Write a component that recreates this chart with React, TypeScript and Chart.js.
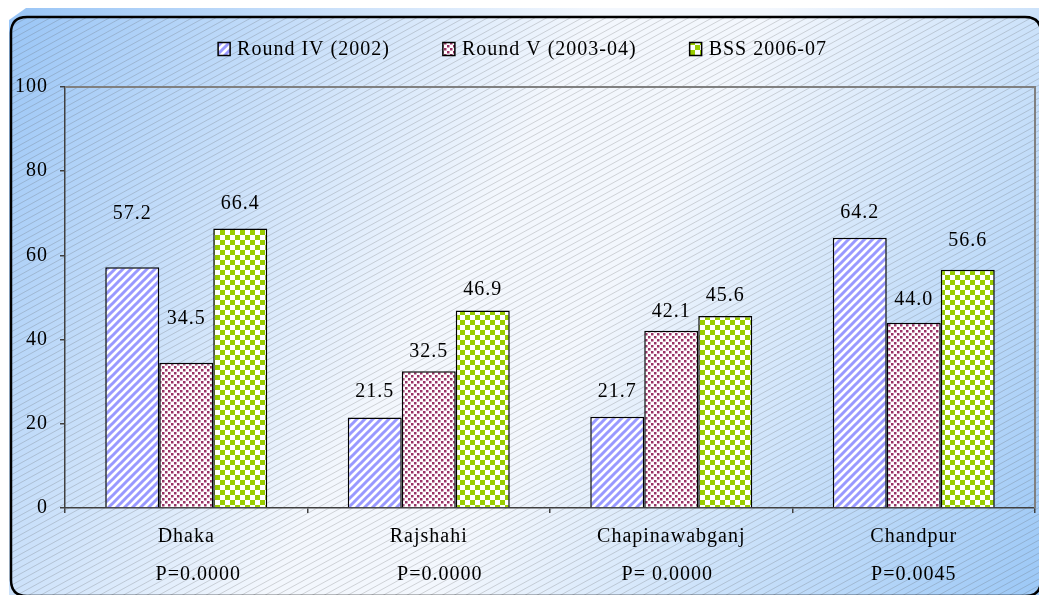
import React, { useEffect, useRef } from "react";
import { Chart, registerables } from "chart.js";

Chart.register(...registerables);

const categories = ["Dhaka", "Rajshahi", "Chapinawabganj", "Chandpur"];
const pValues = ["P=0.0000", "P=0.0000", "P= 0.0000", "P=0.0045"];
const seriesNames = ["Round IV (2002)", "Round V (2003-04)", "BSS 2006-07"];
const round4 = [57.2, 21.5, 21.7, 64.2];
const round5 = [34.5, 32.5, 42.1, 44.0];
const bss = [66.4, 46.9, 45.6, 56.6];
const yTicks = [0, 20, 40, 60, 80, 100];

// style: how far (px) each value label sits above its bar top
const labelLift = [
  [53, 25.5, 24.6, 24.7],
  [44, 19, 19, 23],
  [24.5, 20.5, 20, 28.7],
];
// style: horizontal nudge of the P-value captions
const pNudge = [12, 11, -4, 0];

const FAMILY = "'Liberation Serif', 'Times New Roman', serif";
const FONT = `20px ${FAMILY}`;

function stripePattern(ctx: CanvasRenderingContext2D) {
  const c = document.createElement("canvas");
  c.width = 8;
  c.height = 8;
  const g = c.getContext("2d")!;
  g.fillStyle = "#ffffff";
  g.fillRect(0, 0, 8, 8);
  g.strokeStyle = "#9999ff";
  g.lineWidth = 3;
  g.beginPath();
  g.moveTo(-2, 10);
  g.lineTo(10, -2);
  g.moveTo(-2, 2);
  g.lineTo(2, -2);
  g.moveTo(6, 10);
  g.lineTo(10, 6);
  g.stroke();
  return ctx.createPattern(c, "repeat")!;
}

function dotPattern(ctx: CanvasRenderingContext2D) {
  const c = document.createElement("canvas");
  c.width = 6;
  c.height = 6;
  const g = c.getContext("2d")!;
  g.fillStyle = "#ffffff";
  g.fillRect(0, 0, 6, 6);
  g.fillStyle = "#993366";
  g.fillRect(0, 0, 2.5, 2.5);
  g.fillRect(3, 3, 2.5, 2.5);
  return ctx.createPattern(c, "repeat")!;
}

function checkerPattern(ctx: CanvasRenderingContext2D) {
  const c = document.createElement("canvas");
  c.width = 10;
  c.height = 10;
  const g = c.getContext("2d")!;
  g.fillStyle = "#ffffff";
  g.fillRect(0, 0, 10, 10);
  g.fillStyle = "#99cc00";
  g.fillRect(0, 0, 5, 5);
  g.fillRect(5, 5, 5, 5);
  return ctx.createPattern(c, "repeat")!;
}

function framePath(c: CanvasRenderingContext2D, x: number, y: number, w: number, h: number, r: number) {
  c.beginPath();
  c.moveTo(x + r, y);
  c.lineTo(x + w - r, y);
  c.quadraticCurveTo(x + w, y, x + w, y + r);
  c.lineTo(x + w, y + h - r);
  c.quadraticCurveTo(x + w, y + h, x + w - r, y + h);
  c.lineTo(x + r, y + h);
  c.quadraticCurveTo(x, y + h, x, y + h - r);
  c.lineTo(x, y + r);
  c.quadraticCurveTo(x, y, x + r, y);
  c.closePath();
}

export default function App() {
  const ref = useRef<HTMLCanvasElement>(null);

  useEffect(() => {
    document.body.style.margin = "0";
    const canvas = ref.current!;
    const ctx = canvas.getContext("2d")!;
    const pats = [stripePattern(ctx), dotPattern(ctx), checkerPattern(ctx)];
    const series = [round4, round5, bss];

    const bgPlugin = {
      id: "bgPlugin",
      beforeDraw(chart: any) {
        const c: CanvasRenderingContext2D = chart.ctx;
        const W = chart.width;
        const H = chart.height;
        c.save();
        c.fillStyle = "#ffffff";
        c.fillRect(0, 0, W, H);
        const g = c.createLinearGradient(0, 0, W, H);
        g.addColorStop(0, "#97c4f6");
        g.addColorStop(0.44, "#f3f7fd");
        g.addColorStop(0.56, "#f3f7fd");
        g.addColorStop(1, "#9cc8f6");
        c.fillStyle = g;
        c.beginPath();
        c.moveTo(26, 8);
        c.lineTo(W, 8);
        c.lineTo(W, H);
        c.lineTo(9, H);
        c.lineTo(9, 20);
        c.closePath();
        c.fill();

        const fx = 11, fy = 17, fw = 1030, fh = 579, r = 16;
        framePath(c, fx, fy, fw, fh, r);
        c.save();
        c.clip();
        c.strokeStyle = "rgba(90,90,90,0.3)";
        c.lineWidth = 0.8;
        c.beginPath();
        const slope = 0.55;
        for (let b = 0; b < H + W * slope + 10; b += 6.5) {
          c.moveTo(0, b);
          c.lineTo(W, b - W * slope);
        }
        c.stroke();
        c.restore();
        framePath(c, fx, fy, fw, fh, r);
        c.lineWidth = 2.5;
        c.strokeStyle = "#000000";
        c.stroke();
        c.restore();
        (c as any).letterSpacing = "1px";
      },
      afterDatasetsDraw(chart: any) {
        const c: CanvasRenderingContext2D = chart.ctx;
        const area = chart.chartArea;
        c.save();
        // plot area border (top & right)
        c.strokeStyle = "#808080";
        c.lineWidth = 2;
        c.beginPath();
        c.moveTo(area.left, area.top);
        c.lineTo(area.right, area.top);
        c.lineTo(area.right, area.bottom);
        c.stroke();

        (c as any).letterSpacing = "1px";
        c.font = FONT;
        c.fillStyle = "#000000";
        c.textAlign = "center";
        c.textBaseline = "middle";
        // value labels
        chart.data.datasets.forEach((ds: any, di: number) => {
          const meta = chart.getDatasetMeta(di);
          meta.data.forEach((bar: any, i: number) => {
            const v = ds.data[i] as number;
            c.fillText(v.toFixed(1), bar.x, bar.y - labelLift[di][i]);
          });
        });

        // category labels + P values
        const xs = chart.scales.x;
        categories.forEach((cat, i) => {
          const x = xs.getPixelForValue(i);
          c.fillText(cat, x, area.bottom + 29);
          c.fillText(pValues[i], x + pNudge[i], area.bottom + 67);
        });

        // legend
        const boxW = 12, boxH = 13, gapText = 7, gapItem = 53;
        const widths = seriesNames.map((s) => c.measureText(s).width);
        const total =
          widths.reduce((a, b) => a + b, 0) +
          seriesNames.length * (boxW + gapText) +
          (seriesNames.length - 1) * gapItem;
        let x = chart.width / 2 + 3 - total / 2;
        const ly = 49;
        c.textAlign = "left";
        seriesNames.forEach((s, i) => {
          c.fillStyle = pats[i];
          c.fillRect(x, ly - boxH / 2, boxW, boxH);
          c.strokeStyle = "#000000";
          c.lineWidth = 1.5;
          c.strokeRect(x, ly - boxH / 2, boxW, boxH);
          c.fillStyle = "#000000";
          c.fillText(s, x + boxW + gapText, ly + 1);
          x += boxW + gapText + widths[i] + gapItem;
        });
        c.restore();
      },
    };

    const chart = new Chart(canvas, {
      type: "bar",
      data: {
        labels: categories,
        datasets: series.map((d, i) => ({
          label: seriesNames[i],
          data: d,
          backgroundColor: pats[i],
          borderColor: "#000000",
          borderWidth: 1.5,
          categoryPercentage: 0.668,
          barPercentage: 1,
        })),
      },
      options: {
        responsive: false,
        animation: false,
        events: [],
        layout: { padding: { top: 87, right: 4, left: 0, bottom: 0 } },
        plugins: {
          legend: { display: false },
          tooltip: { enabled: false },
        },
        scales: {
          x: {
            grid: {
              offset: true,
              drawOnChartArea: false,
              drawTicks: true,
              tickLength: 5,
              color: "#404040",
              lineWidth: 1.5,
            },
            border: { color: "#404040", width: 1.5 },
            ticks: { display: false },
            afterFit: (s: any) => {
              s.height = 87;
            },
          },
          y: {
            min: 0,
            max: 100,
            afterBuildTicks: (s: any) => {
              s.ticks = yTicks.map((v) => ({ value: v }));
            },
            ticks: {
              font: { family: FAMILY, size: 20 },
              color: "#000000",
              padding: 12,
            },
            grid: {
              drawOnChartArea: false,
              drawTicks: true,
              tickLength: 5,
              color: "#404040",
              lineWidth: 1.5,
            },
            border: { color: "#404040", width: 1.5 },
            afterFit: (s: any) => {
              s.width = 65;
            },
          },
        },
      },
      plugins: [bgPlugin],
    });

    return () => chart.destroy();
  }, []);

  return (
    <canvas
      ref={ref}
      width={1039}
      height={595}
      style={{ display: "block", width: 1039, height: 595 }}
    />
  );
}
